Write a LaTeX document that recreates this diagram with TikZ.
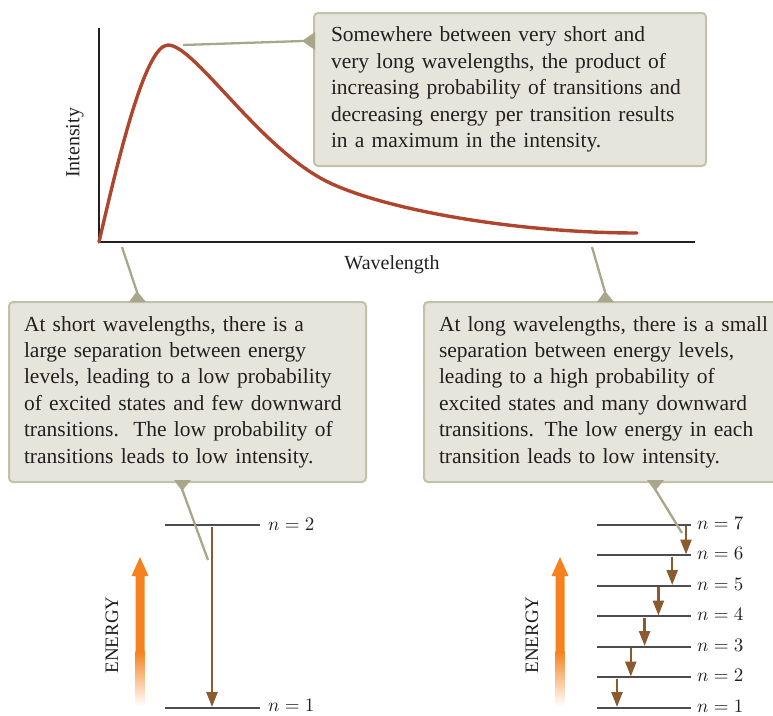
\documentclass[tikz,border=0pt]{standalone}
\usepackage{fontspec}
\setmainfont{Liberation Serif}
\usepackage{graphicx}
\usepackage{tikz}
\usetikzlibrary{arrows.meta, calc}
\definecolor{boxfill}{HTML}{E6E5DB}
\definecolor{boxline}{HTML}{C3C1A9}
\definecolor{ptrline}{HTML}{A9A78A}
\definecolor{curvered}{HTML}{B0452E}
\definecolor{axisdark}{HTML}{231F20}
\definecolor{levelgray}{HTML}{4D4D4F}
\definecolor{dropbrown}{HTML}{8B5A2F}
\definecolor{enorange}{HTML}{F5821F}
\newcommand{\nlev}[1]{\scalebox{1.9}{$n = #1$}}

\begin{document}
\begin{tikzpicture}[
  x=1pt, y=-1pt,
  callout/.style={rectangle, rounded corners=4pt, draw=boxline, line width=2pt, fill=boxfill,
    align=left, anchor=north west, inner ysep=0pt, text=axisdark,
    font=\fontsize{21.5}{26.4}\selectfont},
  ptr/.style={draw=ptrline, line width=2.3pt},
  ptrtip/.style={fill=ptrline},
  axis/.style={draw=axisdark, line width=2pt},
  lbl/.style={font=\fontsize{20}{24}\selectfont, text=axisdark, inner sep=0pt},
  elbl/.style={font=\fontsize{19}{22}\selectfont, text=axisdark, inner sep=0pt, rotate=90},
  lvl/.style={text=axisdark, anchor=west, inner sep=0pt},
  level/.style={draw=levelgray, line width=1.8pt},
  drop/.style={draw=dropbrown, line width=2.4pt, -{Triangle[length=15pt, width=11pt]}}
]
\useasboundingbox (0,0) rectangle (773,715);

% spectrum
\coordinate (origin) at (99,242);
\draw[axis] (99,28) -- (origin) -- (695,242);
\node[lbl, rotate=90] (ylab) at (75,143) {Intensity};
\node[lbl] (xlab) at (392,265) {Wavelength};
\draw[curvered, line width=3.4pt, line cap=round] (origin)
  .. controls (118,160) and (145,45) .. (168,45)
  .. controls (195,45) and (260,150) .. (330,183)
  .. controls (390,211) and (520,233) .. (637,233);
\coordinate (peak) at (183,45);

% callouts
\node[callout, text width=358pt, inner xsep=17pt, minimum height=153pt] (boxTop) at (313,12)
  {Somewhere between very short and\\very long wavelengths, the product of\\increasing probability of transitions and\\decreasing energy per transition results\\in a maximum in the intensity.};
\node[callout, text width=327pt, inner xsep=15pt, minimum height=180pt] (boxShort) at (8,301)
  {At short wavelengths, there is a\\large separation between energy\\levels, leading to a low probability\\of excited states and few downward\\transitions.\ \ The low probability of\\transitions leads to low intensity.};
\node[callout, text width=340pt, inner xsep=15pt, minimum height=180pt] (boxLong) at (423,301)
  {At long wavelengths, there is a small\\separation between energy levels,\\leading to a high probability of\\excited states and many downward\\transitions. The low energy in each\\transition leads to low intensity.};

\coordinate (shortAx) at (122,247);
\coordinate (longAx) at (592,247);
\coordinate (shortLv) at (208,560);
\coordinate (longLv) at (682,533);

\fill[ptrtip] (302,41) -- (315,32) -- (315,50) -- cycle;
\draw[ptr] (peak) -- (303,41);
\fill[ptrtip] (137,291) -- (129,302) -- (146,302) -- cycle;
\draw[ptr] (shortAx) -- (137,292);
\fill[ptrtip] (605,291) -- (597,302) -- (614,302) -- cycle;
\draw[ptr] (longAx) -- (605,292);
\fill[ptrtip] (182,491) -- (174,480) -- (191,480) -- cycle;
\fill[ptrtip] (655,491) -- (647,480) -- (664,480) -- cycle;

% short wavelength levels
\node[lvl] (sn2) at (268,524) {\nlev{2}};
\node[lvl] (sn1) at (268,705.5) {\nlev{1}};
\draw[level] (165,525) -- (260,525);
\draw[level] (165,708) -- (260,708);
\draw[ptr] (182,489) -- (shortLv);
\draw[drop] (212,527) -- (212,707);

% long wavelength levels
\foreach \i in {1,...,7}{
  \pgfmathtruncatemacro{\ly}{708-(\i-1)*30.5}
  \node[lvl] (ln\i) at (697,\ly-2) {\nlev{\i}};
  \draw[level] (597,\ly) -- (691,\ly);
}
\draw[ptr] (655,489) -- (longLv);
\foreach \i in {1,...,6}{
  \draw[drop] ({617+(\i-1)*13.8},{708-\i*30.5+1}) -- ({617+(\i-1)*13.8},{708-(\i-1)*30.5-1});
}

% energy arrows
\foreach \ex/\nm in {140/eL, 560/eR}{
  \fill[enorange] (\ex-4.5,652) -- (\ex-4.5,576) -- (\ex-8.5,576) -- (\ex,557) -- (\ex+8.5,576) -- (\ex+4.5,576) -- (\ex+4.5,652) -- cycle;
  \shade[top color=enorange, bottom color=white] (\ex-4.5,651.5) rectangle (\ex+4.5,706);
  \node[elbl] (\nm) at (\ex-28,635) {ENERGY};
}

\end{tikzpicture}
\end{document}
